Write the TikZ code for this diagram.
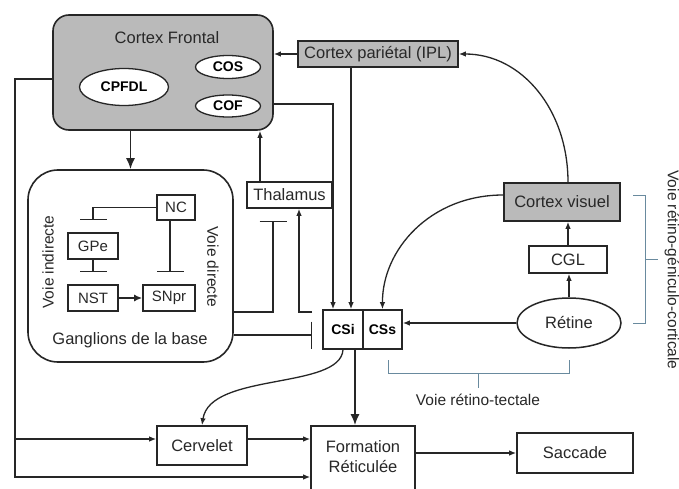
\documentclass[tikz,border=0pt]{standalone}
\usepackage{fontspec}
\setmainfont{Liberation Sans}
\usetikzlibrary{arrows.meta,shapes.geometric}
\definecolor{boxgray}{RGB}{186,186,186}
\definecolor{txt}{RGB}{40,40,40}
\definecolor{brkc}{RGB}{105,138,158}
\newcommand\fmain{\fontsize{16.5}{20}\selectfont}
\newcommand\fvoie{\fontsize{15.5}{18}\selectfont}
\newcommand\fsmb{\fontsize{14}{16}\selectfont\bfseries}
\newcommand\fsm{\fontsize{15}{17}\selectfont}
\begin{document}
\begin{tikzpicture}[x=1pt,y=-1pt,
  bx/.style={draw=black!85, line width=1.6pt, inner sep=0pt, text=txt, font=\fmain},
  gbx/.style={bx, fill=boxgray},
  ell/.style={ellipse, draw=black!85, line width=1.3pt, fill=white, inner sep=0pt, text=black, font=\fsmb},
  ln/.style={line width=1.3pt, draw=black!85},
  arr/.style={ln, -{Latex[length=7pt,width=5.5pt]}},
  bigarr/.style={line width=1.8pt, draw=black!85, -{Latex[length=11pt,width=9pt]}},
  inh/.style={-{Bar[width=27pt]}},
  brk/.style={draw=brkc, line width=1pt},
  lbl/.style={text=txt, font=\fvoie, inner sep=0pt}]
\path[fill=white,use as bounding box] (0,0) rectangle (679,489);

% nodes
\node[gbx, rounded corners=16pt, minimum width=220pt, minimum height=115pt] (frontal) at (163,72.5) {};
\node[lbl, font=\fmain] (ftitle) at (167,38) {Cortex Frontal};
\node[ell, minimum width=89pt, minimum height=37pt] (cpfdl) at (124,87) {CPFDL};
\node[ell, minimum width=65pt, minimum height=23pt] (cos) at (228,67) {COS};
\node[ell, minimum width=65pt, minimum height=22pt] (cof) at (228,106) {COF};
\node[gbx, minimum width=160pt, minimum height=26pt] (pariet) at (378,54) {Cortex pariétal (IPL)};

\node[bx, rounded corners=30pt, minimum width=205pt, minimum height=192pt] (gang) at (130.5,266) {};
\node[lbl, font=\fmain] (gtitle) at (130,340) {Ganglions de la base};
\node[bx, font=\fsm, minimum width=38pt, minimum height=25pt] (nc) at (176,207.5) {NC};
\node[bx, font=\fsm, minimum width=50pt, minimum height=26pt] (gpe) at (93,246) {GPe};
\node[bx, font=\fsm, minimum width=50pt, minimum height=26pt] (nst) at (93,298) {NST};
\node[bx, font=\fsm, minimum width=52pt, minimum height=26pt] (snpr) at (169,298) {SNpr};
\node[lbl, rotate=90] (vind) at (48,262) {Voie indirecte};
\node[lbl, rotate=-90] (vdir) at (213,267) {Voie directe};

\node[bx, minimum width=85pt, minimum height=26pt] (thal) at (289.5,195) {Thalamus};
\node[bx, font=\fsmb, text=black, minimum width=40pt, minimum height=39pt] (csi) at (343,329.5) {CSi};
\node[bx, font=\fsmb, text=black, minimum width=39pt, minimum height=39pt] (css) at (382.5,329.5) {CSs};
\node[gbx, minimum width=116pt, minimum height=38pt] (cvis) at (562,202) {Cortex visuel};
\node[bx, minimum width=78pt, minimum height=27pt] (cgl) at (568,259.5) {CGL};
\node[bx, ellipse, line width=1.5pt, minimum width=104pt, minimum height=50pt] (retine) at (569,323) {Rétine};
\node[bx, minimum width=90pt, minimum height=39pt] (cerv) at (202,445.5) {Cervelet};
\node[bx, minimum width=104pt, minimum height=68pt] (form) at (363,460) {};
\node[lbl, font=\fmain, align=center] (ftext) at (363,457) {Formation\\Réticulée};
\node[bx, minimum width=116pt, minimum height=40pt] (sacc) at (575,453) {Saccade};

\node[lbl, rotate=-90] (vrgc) at (672,270) {Voie rétino-géniculo-corticale};
\node[lbl] (vrt) at (478,400) {Voie rétino-tectale};

% coordinates
\coordinate (L1) at (15,79);
\coordinate (L2) at (15,439);
\coordinate (L3) at (15,477);
\coordinate (R1) at (333,104);
\coordinate (P1) at (351,0);
\coordinate (T1) at (260,0);
\coordinate (G1) at (273,312);
\coordinate (G1b) at (273,221);
\coordinate (H1) at (312,312);
\coordinate (H2) at (299,312);
\coordinate (I1) at (312,335);
\coordinate (B1) at (93,220);
\coordinate (B2) at (93,272);
\coordinate (B3) at (170,272);
\coordinate (C1) at (355,0);
\coordinate (K1) at (633,195);
\coordinate (K2) at (633,323);
\coordinate (K3) at (645,259);
\coordinate (J1) at (388,360);
\coordinate (J2) at (569,360);
\coordinate (J3) at (478,373);

% connectors
\draw[arr] (pariet.west) -- (frontal.east |- pariet.west);
\draw[arr] (frontal.west |- L1) -- (L1) -- (L3) -- (form.west |- L3);
\draw[arr] (L2) -- (cerv.west |- L2);
\draw[arr] (frontal.east |- R1) -- (R1) -- (R1 |- csi.north);
\draw[arr] (pariet.south -| P1) -- (csi.north -| P1);
\draw[bigarr] (gang.north |- frontal.south) -- (gang.north);
\draw[arr] (thal.north -| T1) -- (frontal.south -| T1);
\draw[ln, inh] (gang.east |- G1) -- (G1) -- (G1b);
\draw[arr] (H1) -- (H2) -- (H2 |- thal.south);
\draw[ln, inh] (gang.east |- I1) -- (I1);
\draw[ln, inh] (nc.west) -| (B1);
\draw[ln, inh] (gpe.south) -- (B2);
\draw[ln, inh] (nc.south -| B3) -- (B3);
\draw[line width=1.6pt, draw=black!85, -{Latex[length=8pt,width=7pt]}] (nst) -- (snpr);
\draw[arr] ([yshift=7pt]cvis.west) .. controls (430,195) and (382,250) .. (css.north);
\draw[arr] ([xshift=6pt]cvis.north) .. controls (568,110) and (522,54) .. (pariet.east);
\draw[arr] (retine.west) -- (css.east |- retine.west);
\draw[arr] (retine.north) -- (cgl.south -| retine.north);
\draw[arr] (cgl.north) -- (cvis.south -| cgl.north);
\draw[bigarr] (csi.south -| C1) -- (form.north -| C1);
\draw[arr] (csi.south) .. controls (340,390) and (210,372) .. (cerv.north);
\draw[arr] (cerv.east |- L2) -- (form.west |- L2);
\draw[arr] (form.east |- sacc.west) -- (sacc.west);

% brackets
\draw[brk] (K1) -- ++(12,0) |- (K2);
\draw[brk] (K3) -- ++(13,0);
\draw[brk] (J1) -- ++(0,13) -| (J2);
\draw[brk] (J3) -- ++(0,15);
\end{tikzpicture}
\end{document}
